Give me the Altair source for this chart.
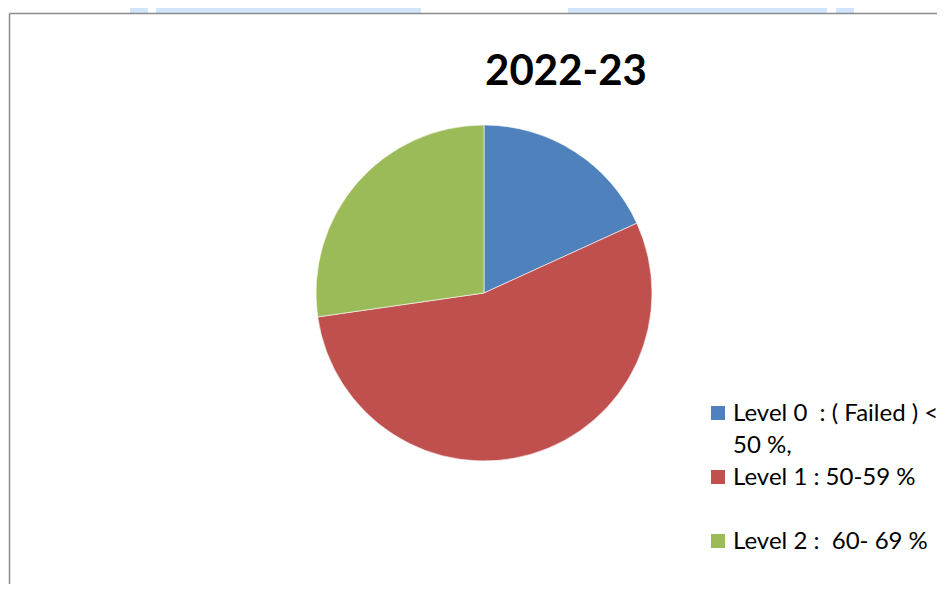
import altair as alt
import pandas as pd

# ---- data ----
title_text = "2022-23"
categories = ["Level 0  : ( Failed ) < 50 %,", "Level 1 : 50-59 %", "Level 2 :  60- 69 %"]
counts = [2, 6, 3]
colors = ["#4F81BD", "#C0504D", "#9BBB59"]
# legend labels as they wrap in the reference (non-breaking spaces keep the double spaces)
label_lines = [["Level 0\u00a0 : ( Failed ) <", "50 %,"], ["Level 1 : 50-59 %"], ["Level 2 :\u00a0 60- 69 %"]]

# decorative band at the very top of the screenshot
band_x = [122, 148, 560, 828]
band_x2 = [140, 413, 819, 846]

df = pd.DataFrame({"category": categories, "count": counts, "idx": list(range(len(categories)))})
leg_df = pd.DataFrame({"category": categories, "lines": label_lines})

W, H = 929, 576
OX, OY = 8, 8  # page margin

color_scale = alt.Scale(domain=categories, range=colors)

pie = alt.Chart(df).mark_arc(outerRadius=168, stroke="white", strokeWidth=0.6).encode(
    theta=alt.Theta("count:Q", stack=True),
    order=alt.Order("idx:Q", sort="ascending"),
    color=alt.Color("category:N", sort=categories, scale=color_scale, legend=None),
    x=alt.value(484 - OX),
    y=alt.value(293 - OY),
)

leg_y = alt.Y(
    "category:N",
    sort=categories,
    scale=alt.Scale(type="point", domain=categories, range=[413 - OY, 541 - OY], padding=0),
    axis=None,
)

leg_sym = alt.Chart(leg_df).mark_square(size=196, opacity=1, strokeWidth=0).encode(
    x=alt.value(718 - OX),
    y=leg_y,
    color=alt.Color("category:N", sort=categories, scale=color_scale, legend=None),
)

leg_txt = alt.Chart(leg_df).mark_text(
    align="left", baseline="alphabetic", dy=8, font="Lato", fontSize=24, lineHeight=32, color="#000000"
).encode(
    x=alt.value(733 - OX),
    y=leg_y,
    text="lines",
)

title = alt.Chart(pd.DataFrame({"t": [title_text]})).mark_text(
    font="Lato", fontSize=42, fontWeight="bold", color="#000000", align="center", baseline="middle"
).encode(text="t:N", x=alt.value(566 - OX), y=alt.value(72 - OY))

band = alt.Chart(pd.DataFrame({"x": band_x, "x2": band_x2})).mark_rect(color="#D0E4FC").encode(
    x=alt.X("x:Q", scale=None), x2="x2:Q", y=alt.value(0), y2=alt.value(13 - OY)
)

border_left = alt.Chart(pd.DataFrame({"a": [0]})).mark_rule(color="#8A8A8A", strokeWidth=1.5).encode(
    x=alt.value(9.5 - OX), y=alt.value(13.5 - OY), y2=alt.value(H)
)
border_top = alt.Chart(pd.DataFrame({"a": [0]})).mark_rule(color="#8A8A8A", strokeWidth=1.5).encode(
    x=alt.value(9.5 - OX), x2=alt.value(W), y=alt.value(13.5 - OY)
)

chart = alt.layer(band, border_left, border_top, pie, title, leg_sym, leg_txt).properties(
    width=W, height=H, padding=0, autosize=alt.AutoSizeParams(type="none")
).configure_view(stroke=None)

chart.save("out.html", embed_options={"renderer": "svg", "actions": False})
